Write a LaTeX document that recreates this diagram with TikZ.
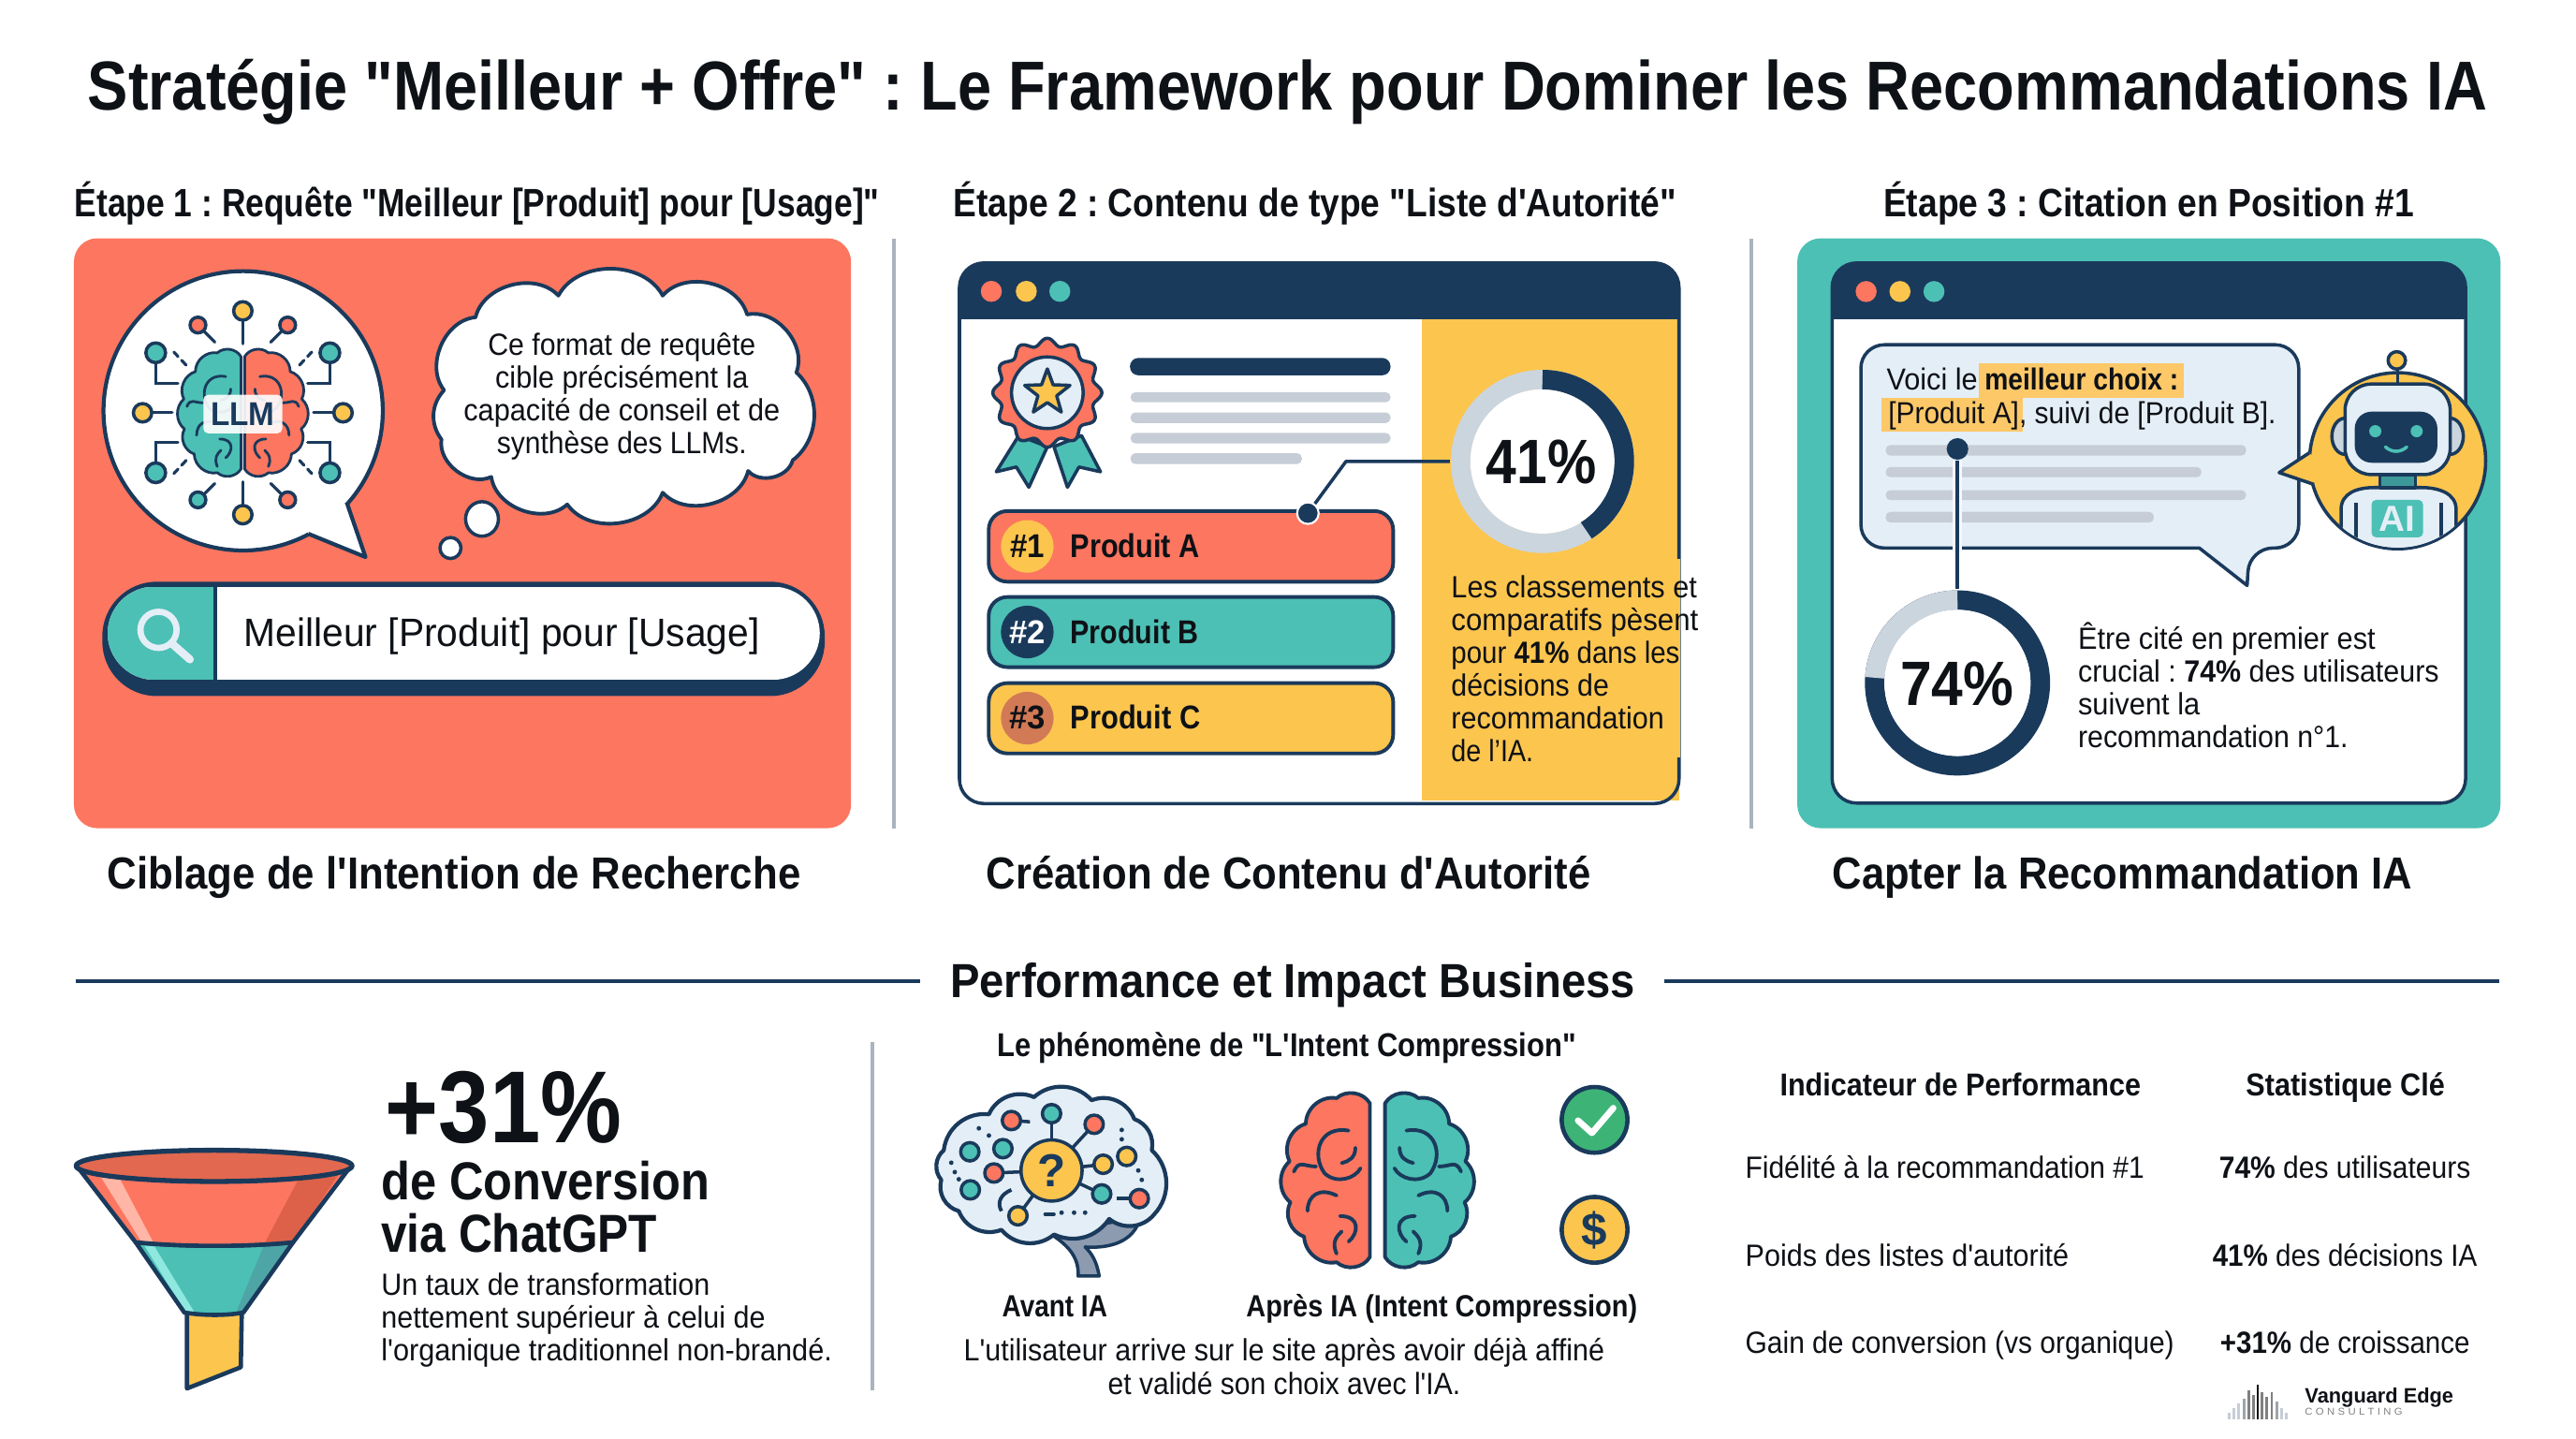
\documentclass[tikz,border=0pt]{standalone}
\usepackage{fontspec,graphicx}
\setmainfont{Liberation Sans}[Ligatures=TeXOff]
\frenchspacing
\usetikzlibrary{calc}
\definecolor{navy}{HTML}{1A3A5C}
\definecolor{coral}{HTML}{FD7660}
\definecolor{teal}{HTML}{4CC0B4}
\definecolor{sun}{HTML}{FCC54E}
\definecolor{mist}{HTML}{CBD5DE}
\definecolor{barg}{HTML}{C6CDD6}
\definecolor{pale}{HTML}{E4EEF6}
\definecolor{ink}{HTML}{0E1116}
\definecolor{sepg}{HTML}{A9B4BF}
\definecolor{badgeb}{HTML}{D17A55}
\definecolor{fnlLT}{HTML}{8EE8E0}
\definecolor{fnlDT}{HTML}{4DA5A5}
\definecolor{fnlLC}{HTML}{FFB6A6}
\definecolor{fnlDC}{HTML}{DD6148}
\definecolor{fnlTop}{HTML}{E2684F}
\definecolor{stemc}{HTML}{8C9BB0}
\definecolor{okg}{HTML}{3DB476}
\newdimen\UU \UU=0.0175cm
\def\uu{0.0175cm}
\newcommand\tw[2]{\resizebox{#1\UU}{\height}{#2}}
\newcommand\hemi[8]{%
\begin{scope}[shift={(#1,#2)},x={#5*#3*0.0175cm},y={-#4*0.0175cm}]
\draw[navy,line width=#8,fill=#7,line join=round] (0.03,-0.9) to[#6=50] (0.42,-0.96) to[#6=50] (0.78,-0.66) to[#6=50] (0.97,-0.22) to[#6=50] (0.96,0.26) to[#6=50] (0.8,0.66) to[#6=50] (0.42,0.96) to[#6=50] (0.03,0.9) -- cycle;
\draw[navy,line width=#8,line cap=round] (0.28,-0.58) .. controls (0.62,-0.64) and (0.72,-0.3) .. (0.56,-0.08) .. controls (0.42,0.05) and (0.2,-0.02) .. (0.14,-0.14);
\draw[navy,line width=#8,line cap=round] (0.2,-0.38) .. controls (0.2,-0.26) and (0.28,-0.22) .. (0.36,-0.2);
\draw[navy,line width=#8,line cap=round] (0.42,0.18) .. controls (0.62,0.08) and (0.76,0.18) .. (0.76,0.36);
\draw[navy,line width=#8,line cap=round] (0.38,0.42) .. controls (0.14,0.42) and (0.16,0.62) .. (0.28,0.72);
\draw[navy,line width=#8,line cap=round] (0.42,0.86) .. controls (0.48,0.72) and (0.42,0.66) .. (0.36,0.6);
\draw[navy,line width=#8,line cap=round] (0.66,-0.16) .. controls (0.8,-0.16) and (0.86,-0.24) .. (0.92,-0.1);
\end{scope}}
\tikzset{
 z1/.style={shift={(34.2,136.75)},x=0.005586cm,y=-0.00419cm},
 z2/.style={shift={(569.8,148.1)},x=0.0053375cm,y=-0.003936cm},
 z3/.style={shift={(1082.6,136.75)},x=0.0050925cm,y=-0.00419cm},
 z4/.style={shift={(34.2,626.8)},x=0.005469cm,y=-0.003325cm},
 z5/.style={shift={(547,626.8)},x=0.005341cm,y=-0.003325cm},
 tl/.style={inner sep=0,anchor=base west,text=ink},
 tc/.style={inner sep=0,anchor=base,text=ink},
 body/.style={font=\fontsize{9.3}{9.96}\selectfont},
 sepline/.style={sepg,line width=1pt},
 edge/.style={navy,line width=1pt,line join=round},
 stepfont/.style={font=\fontsize{12}{14}\selectfont\bfseries},
 capfont/.style={font=\fontsize{13.6}{16}\selectfont\bfseries},
 spoke/.style={navy,line width=0.9pt,line cap=round},
 dotline/.style={navy,line width=0.9pt},
 hdot/.style={circle,fill=navy,inner sep=0,minimum size=0.23cm},
}
\begin{document}
\begin{tikzpicture}[x=0.0175cm,y=-0.0175cm]
\useasboundingbox (0,0) rectangle (1568,875.2);
\fill[white] (0,0) rectangle (1568,875.2);

% ---------- titles
\node[tl,font=\fontsize{21}{24}\selectfont\bfseries] (title) at (53,67) {\tw{1461}{Stratégie "Meilleur + Offre" : Le Framework pour Dominer les Recommandations IA}};
\node[tl,stepfont] (s1) at (45,132) {\tw{490}{Étape 1 : Requête "Meilleur [Produit] pour [Usage]"}};
\node[tl,stepfont] (s2) at (580,132) {\tw{440}{Étape 2 : Contenu de type "Liste d'Autorité"}};
\node[tl,stepfont] (s3) at (1146,132) {\tw{323}{Étape 3 : Citation en Position \#1}};
\node[tl,capfont] (c1) at (65,541) {\tw{422}{Ciblage de l'Intention de Recherche}};
\node[tl,capfont] (c2) at (600,541) {\tw{368}{Création de Contenu d'Autorité}};
\node[tl,capfont] (c3) at (1115,541) {\tw{353}{Capter la Recommandation IA}};

\draw[sepline] (544,145) -- (544,504);
\draw[sepline] (1066,145) -- (1066,504);
\draw[sepline] (531,634) -- (531,846);

% ---------- panel 1
\fill[coral,rounded corners=0.25cm] (45,145) rectangle (518,504);
% speech bubble
\draw[edge,line width=1.2pt,fill=white] (148,250) circle [radius=85];
\fill[white] (211,305.6) -- (222.5,339) -- (187.6,324.8) -- (180,300) -- cycle;
\draw[edge,line width=1.2pt] (211,305.6) -- (222.5,339) -- (187.6,324.8);
% LLM brain spokes
\begin{scope}[shift={(147.8,251.2)}]
 \foreach \s in {-1,1}{
  \draw[spoke] (0,\s*42) -- (0,\s*62);
  \draw[spoke] (\s*43,0) -- (\s*61,0);
  \foreach \t in {-1,1}{
   \draw[spoke] (\s*17,\t*43) -- (\s*27,\t*53);
   \draw[spoke,line join=miter] (\s*39.5,\t*18) -- (\s*53,\t*18) -- (\s*53,\t*36);
   \draw[spoke,dash pattern=on 2pt off 1.6pt] (\s*34.5,\t*29) -- (\s*42,\t*37);
   \draw[navy,line width=1pt,fill=teal] (\s*53,\t*36.5) circle [radius=6];
  }
  \draw[navy,line width=1pt,fill=sun] (\s*61,0) circle [radius=5.6];
  \draw[navy,line width=1pt,fill=sun] (0,\s*62) circle [radius=5.6];
  \draw[navy,line width=1pt,fill=coral] (\s*27.3,-53.4) circle [radius=4.8];
 }
 \draw[navy,line width=1pt,fill=teal] (-27.3,53) circle [radius=4.8];
 \draw[navy,line width=1pt,fill=coral] (27.3,53) circle [radius=4.8];
\end{scope}
\hemi{147.8}{251.2}{37}{38}{1}{bend left}{coral}{0.8pt}
\hemi{147.8}{251.2}{37}{38}{-1}{bend right}{teal}{0.8pt}
\node[fill=white,fill opacity=0.9,text opacity=1,rounded corners=0.05cm,inner sep=0,minimum width=0.84cm,minimum height=0.41cm,text=navy,font=\fontsize{10}{12}\selectfont\bfseries] (llm) at (147.8,252) {\tw{39}{LLM}};
% cloud
\begin{scope}[z1]
\draw[edge,fill=white,line width=1.1pt] (958,180) to[bend left=62] (1157,180) to[bend left=62] (1318,228) to[bend left=62] (1412,375) to[bend left=50] (1405,598) to[bend left=62] (1320,625) to[bend left=62] (1157,680) to[bend left=62] (975,710) to[bend left=62] (830,640) to[bend left=62] (735,545) to[bend left=40] (740,420) to[bend left=62] (800,235) to[bend left=62] (958,180) -- cycle;
\end{scope}
\draw[edge,fill=white] (293.4,315.8) ellipse [x radius=10,y radius=10.5];
\draw[edge,fill=white] (274.2,333.5) circle [radius=6.4];
\node[tc,body,align=center] (cloudtext) at (378.5,276.3) {\tw{163}{Ce format de requête}\\ \tw{154}{cible précisément la}\\ \tw{192.5}{capacité de conseil et de}\\ \tw{152}{synthèse des LLMs.}};
% search bar
\fill[navy,rounded corners=0.58cm] (62.3,354) rectangle (502,423.6);
\begin{scope}
 \clip[rounded corners=0.5cm] (65.5,357) rectangle (499,413.7);
 \fill[white] (65.5,357) rectangle (499,413.7);
 \fill[teal] (65.5,357) rectangle (130,413.7);
 \draw[navy,line width=1pt] (131,357) -- (131,414);
\end{scope}
\draw[pale,line width=1.9pt] (96.5,383.3) circle [radius=11];
\draw[pale,line width=2.4pt,line cap=round] (104.5,391.5) -- (115.6,401.3);
\node[tl,font=\fontsize{12}{14}\selectfont] (query) at (148.2,393.4) {\tw{313.8}{Meilleur [Produit] pour [Usage]}};

% ---------- panel 2
\fill[white] (584,160) rectangle (1022,489);
\fill[sun] (865.7,194) rectangle (1022,487);
\draw[edge,rounded corners=0.26cm] (584,160) rectangle (1022,489);
\fill[navy,rounded corners=0.26cm] (584,160) rectangle (1022,185);
\fill[navy] (584,175) rectangle (1022,194);
\fill[sun] (1019,340.4) rectangle (1022.6,460.7);
\fill[coral] (603.4,177.3) circle [radius=6.4];
\fill[sun] (624.7,177.3) circle [radius=6.4];
\fill[teal] (645.1,177.3) circle [radius=6.4];
% rosette
\begin{scope}[z2]
 \draw[edge,fill=teal] (165,520) -- (120,618) -- (160,605) -- (185,660) -- (222,550) -- cycle;
 \draw[edge,fill=teal] (235,550) -- (262,660) -- (285,605) -- (328,618) -- (290,520) -- cycle;
\end{scope}
\begin{scope}[shift={(637.5,239)}]
 \draw[edge,fill=coral,samples=145,smooth] plot[domain=0:360] (\x:{31+2.2*cos(12*\x)}) -- cycle;
 \draw[edge,fill=pale] (0,0) circle [radius=21.8];
 \draw[edge,fill=sun,line join=round] (90:-14.5) -- (54:-6) -- (18:-14.5) -- (-18:-6) -- (-54:-14.5) -- (-90:-6) -- (-126:-14.5) -- (-162:-6) -- (162:-14.5) -- (126:-6) -- cycle;
\end{scope}
\fill[navy,rounded corners=0.09cm] (687.8,217.8) rectangle (846.4,228.4);
\fill[barg,rounded corners=0.05cm] (688.2,238.7) rectangle (846.4,244.8);
\fill[barg,rounded corners=0.05cm] (688.2,251) rectangle (846.4,257.4);
\fill[barg,rounded corners=0.05cm] (688.2,263.5) rectangle (846.4,269.8);
\fill[barg,rounded corners=0.05cm] (688.2,275.8) rectangle (792.4,282.4);
% rows
\draw[edge,fill=coral,rounded corners=0.2cm,line width=1.1pt] (601.8,311) rectangle (848,354);
\draw[edge,fill=teal,rounded corners=0.2cm,line width=1.1pt] (601.8,363.3) rectangle (848,406);
\draw[edge,fill=sun,rounded corners=0.2cm,line width=1.1pt] (601.8,415.7) rectangle (848,458.5);
\fill[sun] (625.3,332.5) circle [radius=16];
\fill[navy] (625.3,384.6) circle [radius=16];
\fill[badgeb] (625.3,437) circle [radius=16];
\node[tc,font=\fontsize{10}{12}\selectfont\bfseries] (n1) at (625.3,339.3) {\tw{21}{\#1}};
\node[tc,text=white,font=\fontsize{10}{12}\selectfont\bfseries] (n2) at (625.3,391.7) {\tw{22}{\#2}};
\node[tc,font=\fontsize{10}{12}\selectfont\bfseries] (n3) at (625.3,443.8) {\tw{22}{\#3}};
\node[tl,font=\fontsize{10}{12}\selectfont\bfseries] (pa) at (651.2,339.3) {\tw{78.7}{Produit A}};
\node[tl,font=\fontsize{10}{12}\selectfont\bfseries] (pb) at (651.2,391.7) {\tw{78}{Produit B}};
\node[tl,font=\fontsize{10}{12}\selectfont\bfseries] (pc) at (651.2,443.8) {\tw{79}{Produit C}};
% donut 41
\draw[mist,line width=11.9*\uu] (938.9,280.8) circle [radius=49.8];
\fill[white] (938.9,280.8) circle [radius=43.9];
\draw[navy,line width=11.9*\uu] (938.9,231) arc (-90:57.6:49.8);
\node[circle,inner sep=0,minimum size=1.96cm] (ring41) at (938.9,280.8) {};
\node[tc,font=\fontsize{19}{22}\selectfont\bfseries] (pc41) at (938.2,294.3) {\tw{67}{41\%}};
\node[hdot,draw=white,line width=0.6pt] (d41) at (796.1,312.3) {};
\coordinate (e41) at (819.3,280.8);
\draw[edge] (d41) -- (e41) -- (ring41.west);
\node[tl,body,align=left] (t41) at (883,463.6) {\tw{149.5}{Les classements et}\\ \tw{150.4}{comparatifs pèsent}\\ \tw{139}{pour \textbf{41\%} dans les}\\ \tw{96}{décisions de}\\ \tw{129.6}{recommandation}\\ \tw{50}{de l’IA.}};

% ---------- panel 3
\fill[teal,rounded corners=0.25cm] (1094,145) rectangle (1522,504);
\fill[white,rounded corners=0.26cm] (1115.2,160) rectangle (1500.8,488.7);
\draw[edge,rounded corners=0.26cm] (1115.2,160) rectangle (1500.8,488.7);
\fill[navy,rounded corners=0.26cm] (1115.2,160) rectangle (1500.8,185);
\fill[navy] (1115.2,175) rectangle (1500.8,194.2);
\fill[coral] (1135.9,177.4) circle [radius=6.4];
\fill[sun] (1156.5,177.4) circle [radius=6.4];
\fill[teal] (1177.2,177.4) circle [radius=6.4];
% chat bubble
\draw[edge,fill=pale,line join=round,rounded corners=0.25cm] (1266,209.8) -- (1399.2,209.8) -- (1399.2,333.5) -- (1369.2,333.5) [sharp corners] -- (1367.8,356.3) -- (1338.7,333.5) [rounded corners=0.25cm] -- (1132.7,333.5) -- (1132.7,209.8) -- cycle;
\fill[sun!85!orange!80!white] (1204.2,221) rectangle (1329.4,242);
\fill[sun!85!orange!80!white] (1145.2,242) rectangle (1231,262.9);
\node[tl,font=\fontsize{9.2}{11}\selectfont] (v1) at (1148,237.3) {\tw{55.4}{Voici le}};
\node[tl,font=\fontsize{9.2}{11}\selectfont\bfseries] (v2) at (1207.7,237.3) {\tw{117.9}{meilleur choix :}};
\node[tl,font=\fontsize{9.2}{11}\selectfont] (v3) at (1149,257.6) {\tw{236}{[Produit A], suivi de [Produit B].}};
\fill[barg,rounded corners=0.05cm] (1147.8,270.8) rectangle (1367.2,277.3);
\fill[barg,rounded corners=0.05cm] (1147.8,284.2) rectangle (1340,290.4);
\fill[barg,rounded corners=0.05cm] (1147.8,298.3) rectangle (1367.2,304.3);
\fill[barg,rounded corners=0.05cm] (1147.8,311.5) rectangle (1311,318);
% donut 74
\draw[navy,line width=11.9*\uu] (1191.5,415.6) circle [radius=50.4];
\draw[mist,line width=11.9*\uu] (1191.5,365.2) arc (-90:-176.4:50.4);
\fill[white] (1191.5,415.6) circle [radius=44.5];
\node[circle,inner sep=0,minimum size=1.98cm] (ring74) at (1191.5,415.6) {};
\node[hdot] (d74) at (1191.5,273.2) {};
\coordinate (h74) at (1191.5,336);
\draw[pale!40!white,line width=2.8pt] (d74) -- (h74);
\draw[edge] (d74) -- (ring74.north);
\node[tc,font=\fontsize{19}{22}\selectfont\bfseries] (pc74) at (1191.3,429.3) {\tw{69}{74\%}};
\node[tl,body,align=left] (t74) at (1264.5,455) {\tw{181}{Être cité en premier est}\\ \tw{219.7}{crucial : \textbf{74\%} des utilisateurs}\\ \tw{74.2}{suivent la}\\ \tw{164.4}{recommandation n°1.}};
% robot
\draw[edge,fill=sun] (1459.4,280.4) circle [radius=53.6];
\fill[sun] (1405.6,275.6) -- (1387.3,287.6) -- (1408.5,294.8) -- (1416,285) -- cycle;
\draw[edge] (1405.6,275.6) -- (1387.3,287.6) -- (1408.5,294.8);
\begin{scope}
 \clip (1459.4,280.4) circle [radius=52.8];
 \fill[white] (1405,322) rectangle (1515,335);
 \draw[edge,fill=pale] (1425,335) -- (1425,310) .. controls (1425,300) and (1435,296.7) .. (1445,296.7) -- (1474,296.7) .. controls (1484,296.7) and (1495,300) .. (1495,310) -- (1495,340) -- (1425,340) -- cycle;
 \draw[edge] (1434,306) -- (1434,340);
 \draw[edge] (1486,306) -- (1486,340);
\end{scope}
\draw[edge] (1459.4,233.7) -- (1459.4,225);
\draw[edge,fill=sun] (1458.9,219.3) circle [radius=5.3];
\draw[edge,fill=teal!70!navy] (1448.7,289) rectangle (1470.2,296.7);
\draw[edge,fill=mist] (1427.4,265.5) ellipse [x radius=8,y radius=11];
\draw[edge,fill=mist] (1491.4,265.5) ellipse [x radius=8,y radius=11];
\draw[edge,fill=pale,rounded corners=0.28cm] (1427.4,233.7) rectangle (1491.4,288.8);
\fill[navy,rounded corners=0.18cm] (1433.3,250.5) rectangle (1483.6,281.6);
\fill[teal] (1445.8,262.4) circle [radius=3.7];
\fill[teal] (1471,262.4) circle [radius=3.7];
\draw[teal,line width=1pt,line cap=round] (1452,272) .. controls (1456,275.5) and (1461,275.5) .. (1465,272);
\node[fill=teal,rounded corners=0.05cm,inner sep=0,minimum width=0.55cm,minimum height=0.4cm,text=pale,font=\fontsize{11}{13}\selectfont\bfseries] (ai) at (1459.2,315.6) {\tw{22}{AI}};

% ---------- section header
\node[tl,font=\fontsize{14.5}{17}\selectfont\bfseries] (perf) at (578,607) {\tw{417}{Performance et Impact Business}};
\coordinate (l1a) at (46,597); \coordinate (l1b) at (560,597);
\coordinate (l2a) at (1013,597); \coordinate (l2b) at (1521,597);
\draw[navy,line width=1pt] (l1a) -- (l1b);
\draw[navy,line width=1pt] (l2a) -- (l2b);

% ---------- funnel
\begin{scope}[z4]
 \fill[sun] (255,905) -- (362,905) -- (360,1080) -- (255,1148) -- cycle;
 \draw[edge,line width=1.3pt] (255,905) -- (255,1148) -- (360,1080) -- (362,905);
 \fill[teal] (155,680) .. controls (250,695) and (370,695) .. (462,680) -- (365,905) .. controls (330,915) and (290,915) .. (250,905) -- cycle;
 \fill[fnlLT] (172,690) -- (192,694) -- (270,905) -- (250,900) -- cycle;
 \fill[fnlDT] (405,690) -- (462,680) -- (365,905) -- (350,908) -- cycle;
 \draw[edge,line width=1.3pt] (155,680) .. controls (250,695) and (370,695) .. (462,680) -- (365,905) .. controls (330,915) and (290,915) .. (250,905) -- cycle;
 \fill[coral] (40,435) -- (575,435) -- (462,680) .. controls (370,695) and (250,695) .. (155,680) -- cycle;
 \fill[fnlLC] (85,465) -- (122,470) -- (190,682) -- (165,675) -- cycle;
 \fill[fnlDC] (475,470) -- (556,450) -- (462,680) -- (405,688) -- cycle;
 \draw[edge,line width=1.3pt] (40,435) -- (155,680) .. controls (250,695) and (370,695) .. (462,680) -- (575,435);
\end{scope}
\draw[edge,line width=1.5pt,fill=fnlTop] (130.3,709.5) ellipse [x radius=84,y radius=9.5];
\node[tl,font=\fontsize{31}{36}\selectfont\bfseries] (big) at (234.2,695.6) {\tw{143.8}{+31\%}};
\node[tl,font=\fontsize{16.2}{16}\selectfont\bfseries] (conv1) at (231.7,730.4) {\tw{200}{de Conversion}};
\node[tl,font=\fontsize{16.2}{16}\selectfont\bfseries] (conv2) at (231.7,762) {\tw{168}{via ChatGPT}};
\node[tl,body,align=left] (tfun) at (231.7,828.1) {\tw{200}{Un taux de transformation}\\ \tw{233.8}{nettement supérieur à celui de}\\ \tw{274.4}{l'organique traditionnel non-brandé.}};

% ---------- intent compression
\node[tl,font=\fontsize{10}{12}\selectfont\bfseries] (ict) at (606.5,643) {\tw{352.5}{Le phénomène de "L'Intent Compression"}};
\begin{scope}[z5]
 \draw[edge,fill=stemc] (300,650) .. controls (340,690) and (360,730) .. (358,788) -- (400,788) .. controls (395,740) and (385,715) .. (372,695) .. controls (420,700) and (470,680) .. (482,600) -- cycle;
 \draw[edge,fill=pale,line width=1.2pt] (120,580) to[bend left=45] (85,480) to[bend left=45] (90,385) to[bend left=45] (180,270) to[bend left=45] (270,215) to[bend left=45] (385,225) to[bend left=45] (470,285) to[bend left=40] (505,385) to[bend left=45] (510,590) to[bend left=45] (420,605) to[bend left=40] (310,655) to[bend left=45] (205,640) to[bend left=45] (120,580) -- cycle;
 \draw[edge,line width=1.1pt] (205,580) .. controls (195,550) and (205,525) .. (225,512);
 \foreach \a/\b in {305/268,390/302,190/458,408/430,405/525,238/595}{
  \draw[edge] (305,450) -- (\a,\b);
 }
 \draw[edge] (225,290) -- (262,294);
 \draw[edge] (480,540) -- (435,540);
 \foreach \a/\b/\c in {225/290/coral,305/268/teal,390/302/coral,142/390/teal,208/380/teal,190/458/coral,143/512/teal,238/595/sun,408/430/sun,455/405/sun,405/525/teal,480/540/coral}{
  \draw[edge,fill=\c] (\a,\b) circle [radius=5.6*\uu];
 }
 \foreach \a/\b in {160/315,180/338,445/320,445/350,105/425,112/455,120/478,478/450,485/480,325/585,350/585,372/585}{
  \fill[navy] (\a,\b) circle [radius=1.4*\uu];
 }
 \draw[edge,line cap=round] (292,590) -- (310,590);
 \draw[edge,fill=sun] (305,450) circle [radius=18.6*\uu];
\end{scope}
\node[font=\fontsize{14}{16}\selectfont\bfseries,text=navy,inner sep=0] (qm) at (640,712.5) {?};
\hemi{835.4}{718.2}{52}{52}{-1}{bend right}{coral}{1.1pt}
\hemi{841.5}{718.2}{52}{52}{1}{bend left}{teal}{1.1pt}
\draw[edge,line width=1.3pt,fill=okg] (970.6,681.5) circle [radius=20];
\draw[white,line width=1.9pt,line cap=round,line join=round] (960.5,681.9) -- (969,689.5) -- (982,674.3);
\draw[edge,line width=1.3pt,fill=sun] (970.6,748.4) circle [radius=20];
\node[font=\fontsize{14}{16}\selectfont\bfseries,text=navy,inner sep=0] (usd) at (970.6,748.4) {\$};
\node[tl,font=\fontsize{9.3}{11}\selectfont\bfseries] (av) at (609.6,801.6) {\tw{64}{Avant IA}};
\node[tl,font=\fontsize{9.3}{11}\selectfont\bfseries] (ap) at (758.2,801.6) {\tw{238}{Après IA (Intent Compression)}};
\node[tc,font=\fontsize{9.3}{10.25}\selectfont,align=center] (desc) at (781.7,848.7) {\tw{390}{L'utilisateur arrive sur le site après avoir déjà affiné}\\ \tw{214.5}{et validé son choix avec l'IA.}};

% ---------- table
\node[tl,font=\fontsize{9.6}{11}\selectfont\bfseries] (th1) at (1083,666.7) {\tw{219.7}{Indicateur de Performance}};
\node[tl,font=\fontsize{9.6}{11}\selectfont\bfseries] (th2) at (1366.7,666.7) {\tw{121}{Statistique Clé}};
\node[tl,body] (r1) at (1062,717) {\tw{242.8}{Fidélité à la recommandation \#1}};
\node[tl,body] (r2) at (1062,770.6) {\tw{196.9}{Poids des listes d'autorité}};
\node[tl,body] (r3) at (1062,823.8) {\tw{261}{Gain de conversion (vs organique)}};
\node[tl,body] (v1r) at (1350.4,717) {\tw{153}{\textbf{74\%} des utilisateurs}};
\node[tl,body] (v2r) at (1346.4,770.6) {\tw{161}{\textbf{41\%} des décisions IA}};
\node[tl,body] (v3r) at (1351,823.8) {\tw{152}{\textbf{+31\%} de croissance}};
% logo
\foreach \a/\h/\c in {1356/4/barg,1359/7/barg,1362/10/barg,1365/13/barg!80!black,1368/18/gray,1371/15/gray,1373.5/21.5/ink,1376/17/gray,1379/14/gray,1382/17/gray,1385/11/barg!80!black,1388/7/barg,1391/4/barg}{
 \fill[\c] (\a,864) rectangle ++(1.6,-\h);
}
\node[tl,font=\fontsize{6.3}{8}\selectfont\bfseries] (ve) at (1402.6,853.5) {\tw{90.4}{Vanguard Edge}};
\node[tl,text=gray,font=\fontsize{3}{4}\selectfont] (vc) at (1402.6,861.3) {\tw{59.4}{C\hspace{.3em}O\hspace{.3em}N\hspace{.3em}S\hspace{.3em}U\hspace{.3em}L\hspace{.3em}T\hspace{.3em}I\hspace{.3em}N\hspace{.3em}G}};
\end{tikzpicture}
\end{document}
